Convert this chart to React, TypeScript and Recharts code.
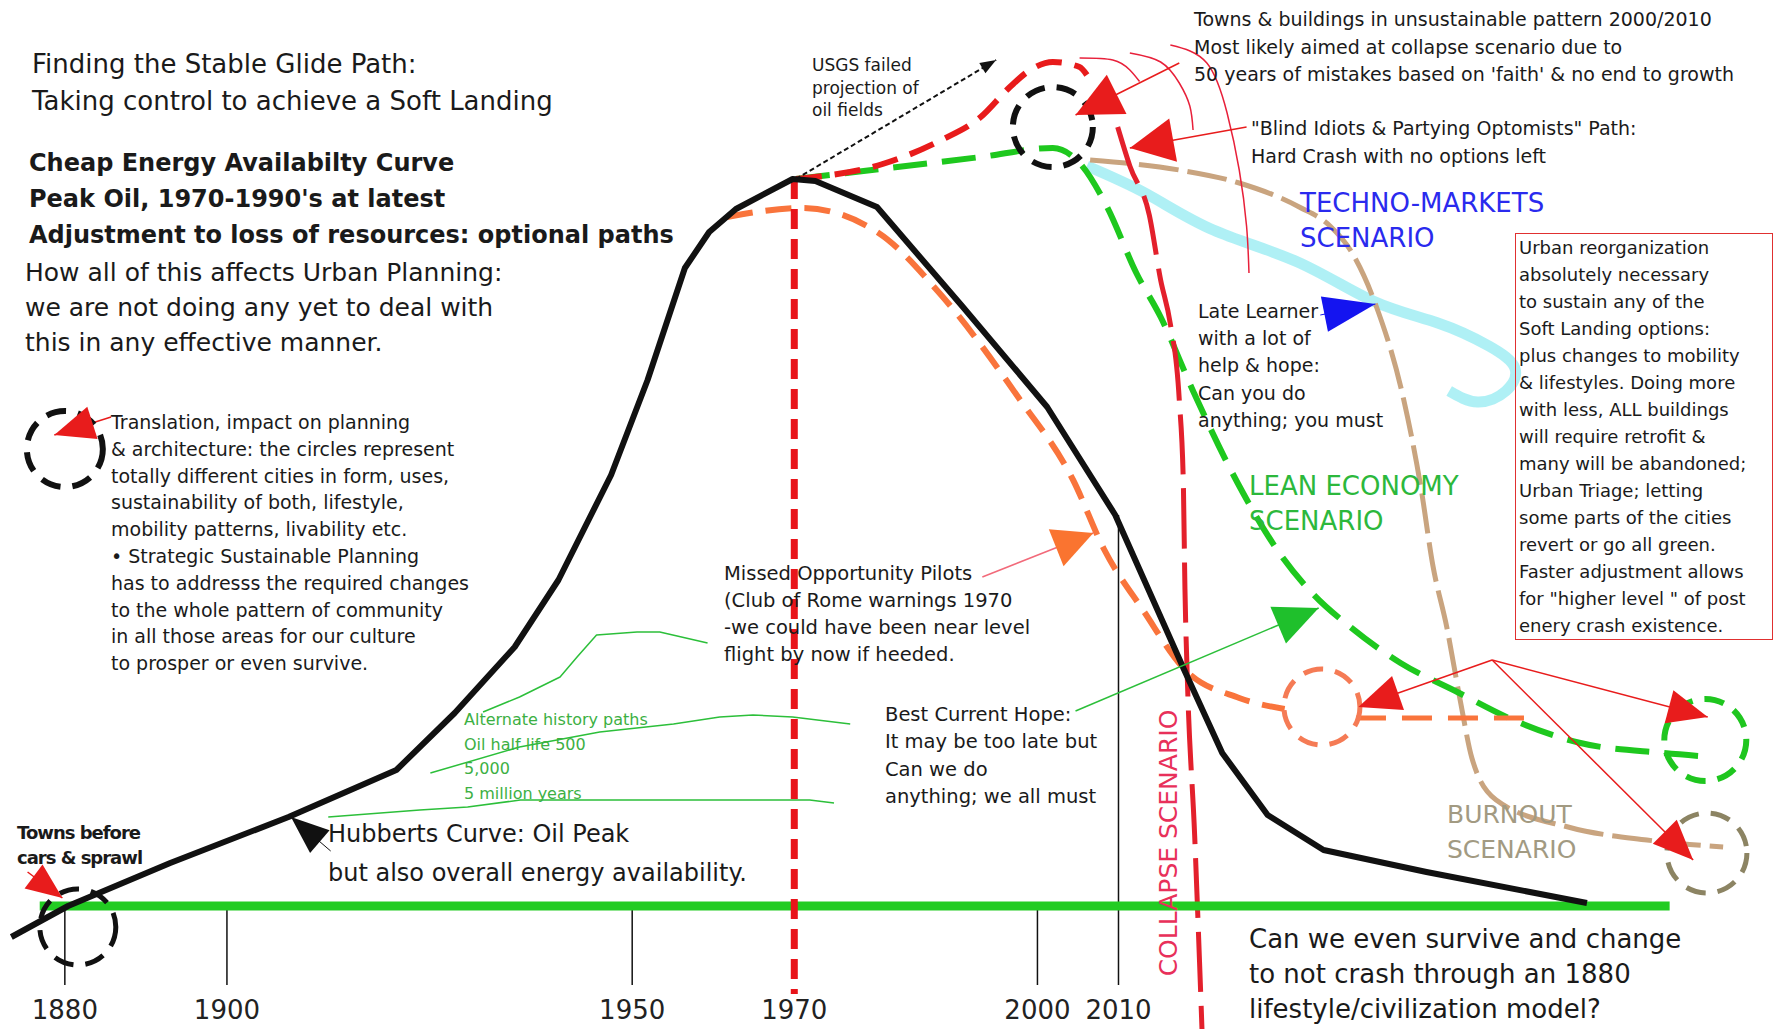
import React from "react";
import { LineChart, Line, XAxis, YAxis, ReferenceDot, ReferenceLine } from "recharts";

// energy index: 0 = the green baseline, year on the x axis
type Pt = { year: number; energy: number };

const hubbertCurve: Pt[] = [
  { year: 1873.4, energy: -3.1 },
  { year: 1880.4, energy: 0.0 },
  { year: 1893.0, energy: 4.3 },
  { year: 1907.6, energy: 8.9 },
  { year: 1920.9, energy: 13.6 },
  { year: 1928.1, energy: 19.3 },
  { year: 1935.5, energy: 25.9 },
  { year: 1940.9, energy: 32.6 },
  { year: 1947.4, energy: 43.1 },
  { year: 1951.9, energy: 52.6 },
  { year: 1956.5, energy: 63.8 },
  { year: 1959.5, energy: 67.4 },
  { year: 1962.8, energy: 69.7 },
  { year: 1969.8, energy: 72.7 },
  { year: 1972.6, energy: 72.5 },
  { year: 1980.2, energy: 69.9 },
  { year: 1990.7, energy: 60.0 },
  { year: 2001.2, energy: 49.9 },
  { year: 2009.6, energy: 39.1 },
  { year: 2018.0, energy: 23.8 },
  { year: 2022.8, energy: 15.3 },
  { year: 2028.4, energy: 9.1 },
  { year: 2035.3, energy: 5.6 },
  { year: 2048.0, energy: 3.4 },
  { year: 2067.8, energy: 0.3 },
];

const peakLine1970: Pt[] = [
  { year: 1970, energy: 72.7 },
  { year: 1970, energy: -8.8 },
];

const missedOpportunity: Pt[] = [
  { year: 1961.7, energy: 68.9 },
  { year: 1971.0, energy: 69.8 },
  { year: 1980.4, energy: 67.3 },
  { year: 1987.9, energy: 61.3 },
  { year: 1997.7, energy: 50.8 },
  { year: 2004.4, energy: 42.6 },
  { year: 2008.2, energy: 35.7 },
  { year: 2013.1, energy: 29.5 },
  { year: 2018.0, energy: 23.8 },
  { year: 2024.9, energy: 20.8 },
  { year: 2030.5, energy: 19.7 },
];

const missedLevelFlight: Pt[] = [
  { year: 2039.3, energy: 18.8 },
  { year: 2061.5, energy: 18.8 },
];

const leanEconomy: Pt[] = [
  { year: 1970.2, energy: 72.7 },
  { year: 1993.0, energy: 74.9 },
  { year: 2001.9, energy: 75.8 },
  { year: 2005.2, energy: 74.3 },
  { year: 2008.6, energy: 69.9 },
  { year: 2012.2, energy: 63.3 },
  { year: 2015.2, energy: 58.9 },
  { year: 2019.2, energy: 51.5 },
  { year: 2024.7, energy: 42.3 },
  { year: 2030.2, energy: 34.9 },
  { year: 2034.0, energy: 31.2 },
  { year: 2038.6, energy: 27.9 },
  { year: 2044.8, energy: 24.3 },
  { year: 2051.8, energy: 21.4 },
  { year: 2058.7, energy: 18.6 },
  { year: 2067.0, energy: 16.3 },
  { year: 2077.2, energy: 15.3 },
  { year: 2083.3, energy: 14.9 },
];

const blindOptimists: Pt[] = [
  { year: 1970.2, energy: 72.7 },
  { year: 1980.9, energy: 74.2 },
  { year: 1987.9, energy: 76.5 },
  { year: 1993.0, energy: 78.9 },
  { year: 1996.6, energy: 81.9 },
  { year: 1999.1, energy: 83.6 },
  { year: 2001.9, energy: 84.4 },
  { year: 2005.2, energy: 83.9 },
  { year: 2006.1, energy: 83.1 },
];

const collapse: Pt[] = [
  { year: 2009.9, energy: 77.9 },
  { year: 2011.4, energy: 74.0 },
  { year: 2013.8, energy: 69.1 },
  { year: 2015.2, energy: 62.6 },
  { year: 2016.4, energy: 58.2 },
  { year: 2017.5, energy: 50.6 },
  { year: 2018.0, energy: 42.3 },
  { year: 2018.2, energy: 31.7 },
  { year: 2018.5, energy: 22.6 },
  { year: 2019.4, energy: 7.0 },
  { year: 2020.0, energy: -5.6 },
  { year: 2020.3, energy: -12.3 },
];

const burnout: Pt[] = [
  { year: 2006.5, energy: 74.6 },
  { year: 2017.5, energy: 73.6 },
  { year: 2024.9, energy: 72.3 },
  { year: 2032.3, energy: 69.9 },
  { year: 2036.1, energy: 68.0 },
  { year: 2038.6, energy: 65.6 },
  { year: 2041.7, energy: 60.2 },
  { year: 2045.2, energy: 50.6 },
  { year: 2047.3, energy: 41.9 },
  { year: 2048.8, energy: 34.0 },
  { year: 2050.5, energy: 27.9 },
  { year: 2052.2, energy: 20.4 },
  { year: 2053.6, energy: 14.8 },
  { year: 2056.6, energy: 10.6 },
  { year: 2065.7, energy: 7.85 },
  { year: 2075.2, energy: 6.6 },
  { year: 2084.6, energy: 5.9 },
];

const technoMarkets: Pt[] = [
  { year: 2006.1, energy: 74.0 },
  { year: 2013.5, energy: 71.2 },
  { year: 2021.7, energy: 67.6 },
  { year: 2032.1, energy: 64.4 },
  { year: 2041.4, energy: 60.5 },
  { year: 2049.4, energy: 58.3 },
  { year: 2055.7, energy: 56.0 },
  { year: 2058.9, energy: 53.8 },
  { year: 2057.8, energy: 51.5 },
  { year: 2054.3, energy: 50.4 },
  { year: 2050.8, energy: 51.5 },
];

const usgsProjection: Pt[] = [
  { year: 1970.2, energy: 72.7 },
  { year: 1994.9, energy: 84.6 },
];

const altHistory500: Pt[] = [
  { year: 1931.6, energy: 19.4 },
  { year: 1936.1, energy: 20.9 },
  { year: 1941.1, energy: 22.9 },
  { year: 1943.2, energy: 24.9 },
  { year: 1945.6, energy: 27.1 },
  { year: 1950.6, energy: 27.4 },
  { year: 1953.4, energy: 27.4 },
  { year: 1959.3, energy: 26.3 },
];

const altHistory5000: Pt[] = [
  { year: 1925.1, energy: 13.3 },
  { year: 1936.1, energy: 15.9 },
  { year: 1946.0, energy: 17.4 },
  { year: 1955.1, energy: 18.2 },
  { year: 1960.8, energy: 18.9 },
  { year: 1964.9, energy: 19.1 },
  { year: 1969.8, energy: 18.9 },
  { year: 1976.9, energy: 18.2 },
];

const altHistoryMillion: Pt[] = [
  { year: 1912.5, energy: 8.9 },
  { year: 1923.8, energy: 9.6 },
  { year: 1929.7, energy: 9.9 },
  { year: 1936.2, energy: 10.6 },
  { year: 1971.9, energy: 10.6 },
  { year: 1974.9, energy: 10.3 },
];

const warnArc1: Pt[] = [
  { year: 2005.2, energy: 84.8 },
  { year: 2009.3, energy: 84.6 },
  { year: 2011.4, energy: 83.6 },
  { year: 2012.6, energy: 82.45 },
];
const warnArc2: Pt[] = [
  { year: 2011.4, energy: 85.3 },
  { year: 2015.2, energy: 84.4 },
  { year: 2017.5, energy: 82.3 },
  { year: 2018.8, energy: 80.0 },
  { year: 2019.2, energy: 77.6 },
];
const warnArc3: Pt[] = [
  { year: 2016.4, energy: 86.1 },
  { year: 2020.9, energy: 84.3 },
  { year: 2023.4, energy: 79.3 },
  { year: 2024.9, energy: 73.6 },
  { year: 2025.8, energy: 68.0 },
  { year: 2026.1, energy: 63.3 },
];

const baseline: Pt[] = [
  { year: 1876.9, energy: 0 },
  { year: 2078.0, energy: 0 },
];

// pointer arrows: tail first, tip last
const arrowTownsPattern: Pt[] = [{ year: 2017.5, energy: 84.3 }, { year: 2004.7, energy: 79.1 }];
const arrowBlind: Pt[] = [{ year: 2025.8, energy: 77.9 }, { year: 2011.4, energy: 75.8 }];
const arrowMissed: Pt[] = [{ year: 1993.2, energy: 32.9 }, { year: 2006.9, energy: 37.3 }];
const arrowHope: Pt[] = [{ year: 2004.7, energy: 19.5 }, { year: 2034.7, energy: 29.8 }];
const arrowLate: Pt[] = [{ year: 2034.9, energy: 59.1 }, { year: 2041.7, energy: 60.2 }];
const arrowHubbert: Pt[] = [{ year: 1912.8, energy: 5.5 }, { year: 1907.9, energy: 8.9 }];
const arrowLegend: Pt[] = [{ year: 1885.7, energy: 48.9 }, { year: 1878.7, energy: 47.1 }];
const arrowTownsBefore: Pt[] = [{ year: 1875.4, energy: 3.4 }, { year: 1879.7, energy: 0.8 }];
const arrowToMissed: Pt[] = [{ year: 2056.1, energy: 24.6 }, { year: 2039.6, energy: 19.9 }];
const arrowToLean: Pt[] = [{ year: 2056.1, energy: 24.6 }, { year: 2082.7, energy: 18.9 }];
const arrowToBurnout: Pt[] = [{ year: 2056.1, energy: 24.6 }, { year: 2080.9, energy: 4.6 }];

const cityCircles = [
  { name: "now", year: 2001.9, energy: 77.9 },
  { name: "legend", year: 1880.0, energy: 45.7 },
  { name: "before", year: 1881.6, energy: -2.1 },
  { name: "missed", year: 2035.1, energy: 19.9 },
  { name: "lean", year: 2082.4, energy: 16.6 },
  { name: "burnout", year: 2082.6, energy: 5.3 },
];

const axisTicks = [
  { year: 1880, top: 0 },
  { year: 1900, top: 0 },
  { year: 1950, top: 0 },
  { year: 2000, top: 0 },
  { year: 2010, top: 39.1 },
];
const tickBottom = -7.9;
const yearLabels = [1880, 1900, 1950, 1970, 2000, 2010];
const yearLabelLevel = -10.4;

const titleLines = ["Finding the Stable Glide Path:", "Taking control to achieve a Soft Landing"];
const curveLines = [
  "Cheap Energy Availabilty Curve",
  "Peak Oil, 1970-1990's at latest",
  "Adjustment to loss of resources: optional paths",
];
const planningLines = [
  "How all of this affects Urban Planning:",
  "we are not doing any yet to deal with",
  "this in any effective manner.",
];
const legendLines = [
  "Translation, impact on planning",
  "& architecture: the circles represent",
  "totally different cities in form, uses,",
  "sustainability of both, lifestyle,",
  "mobility patterns, livability etc.",
  "\u2022 Strategic Sustainable Planning",
  "has to addresss the required changes",
  "to the whole pattern of community",
  "in all those areas for our culture",
  "to prosper or even survive.",
];
const townsPatternLines = [
  "Towns & buildings in unsustainable pattern 2000/2010",
  "Most likely aimed at collapse scenario due to",
  "50 years of mistakes based on 'faith' & no end to growth",
];
const usgsLines = ["USGS failed", "projection of", "oil fields"];
const blindLines = ["\"Blind Idiots & Partying Optomists\" Path:", "Hard Crash with no options left"];
const technoLines = ["TECHNO-MARKETS", "SCENARIO"];
const lateLines = ["Late Learner", "with a lot of", "help & hope:", "Can you do", "anything; you must"];
const leanLines = ["LEAN ECONOMY", "SCENARIO"];
const urbanLines = [
  "Urban reorganization",
  "absolutely necessary",
  "to sustain any of the",
  "Soft Landing options:",
  "plus changes to mobility",
  "& lifestyles. Doing more",
  "with less, ALL buildings",
  "will require retrofit &",
  "many will be abandoned;",
  "Urban Triage; letting",
  "some parts of the cities",
  "revert or go all green.",
  "Faster adjustment allows",
  "for \"higher level \" of post",
  "enery crash existence.",
];
const missedLines = [
  "Missed Opportunity Pilots",
  "(Club of Rome warnings 1970",
  "-we could have been near level",
  "flight by now if heeded.",
];
const hopeLines = ["Best Current Hope:", "It may be too late but", "Can we do", "anything; we all must"];
const altLines = ["Alternate history paths", "Oil half life 500", "5,000", "5 million years"];
const hubbertLines = ["Hubberts Curve: Oil Peak", "but also overall energy availability."];
const townsBeforeLines = ["Towns before", "cars & sprawl"];
const collapseLabel = "COLLAPSE SCENARIO";
const surviveLines = ["Can we even survive and change", "to not crash through an 1880", "lifestyle/civilization model?"];
const burnoutLines = ["BURNOUT", "SCENARIO"];

const FONT = "'DejaVu Sans', sans-serif";

const circleStyle: Record<string, { stroke: string; r: number; w: number }> = {
  now: { stroke: "#111", r: 40, w: 6 },
  legend: { stroke: "#111", r: 38, w: 6 },
  before: { stroke: "#111", r: 38, w: 5 },
  missed: { stroke: "#f57b55", r: 38, w: 5 },
  lean: { stroke: "#1fc61f", r: 41, w: 6 },
  burnout: { stroke: "#8c8463", r: 40, w: 5 },
};

function arrowHead(color: string, len: number, half: number) {
  let tail: { x: number; y: number } | null = null;
  return (props: any) => {
    const { cx, cy, index } = props;
    if (index === 0) {
      tail = { x: cx, y: cy };
      return <g key={`t${index}`} />;
    }
    const from = tail ?? { x: cx - 1, y: cy };
    const a = Math.atan2(cy - from.y, cx - from.x);
    const bx = cx - len * Math.cos(a);
    const by = cy - len * Math.sin(a);
    const px = -Math.sin(a) * half;
    const py = Math.cos(a) * half;
    return (
      <polygon
        key={`h${index}`}
        points={`${cx},${cy} ${bx + px},${by + py} ${bx - px},${by - py}`}
        fill={color}
      />
    );
  };
}

const headTownsPattern = arrowHead("#e81c1c", 46, 22);
const headBlind = arrowHead("#e81c1c", 44, 22);
const headMissed = arrowHead("#fa7430", 40, 20);
const headHope = arrowHead("#1fc02c", 44, 20);
const headLate = arrowHead("#1414f0", 52, 18);
const headHubbert = arrowHead("#111", 38, 15);
const headLegend = arrowHead("#e81c1c", 40, 17);
const headTownsBefore = arrowHead("#e81c1c", 36, 15);
const headToMissed = arrowHead("#e81c1c", 42, 18);
const headToLean = arrowHead("#e81c1c", 40, 17);
const headToBurnout = arrowHead("#e81c1c", 40, 17);
const headUsgs = arrowHead("#111", 16, 6);

const Block = ({
  lines,
  left,
  top,
  size,
  lh,
  color = "#1a1a1a",
  weight = 400,
  spacing = 0,
}: {
  lines: string[];
  left: number;
  top: number;
  size: number;
  lh: number;
  color?: string;
  weight?: number;
  spacing?: number;
}) => (
  <div
    style={{
      position: "absolute",
      left,
      top,
      fontSize: size,
      lineHeight: `${lh}px`,
      color,
      fontWeight: weight,
      letterSpacing: spacing,
      whiteSpace: "nowrap",
      pointerEvents: "none",
    }}
  >
    {lines.map((l) => (
      <div key={l} style={{ height: lh }}>
        {l}
      </div>
    ))}
  </div>
);

const App = () => {
  const line = (
    key: string,
    data: Pt[],
    stroke: string,
    width: number,
    dash?: string,
    type: any = "monotone",
    dot: any = false,
    opacity = 1
  ) => (
    <Line
      key={key}
      data={data}
      dataKey="energy"
      type={type}
      stroke={stroke}
      strokeWidth={width}
      strokeDasharray={dash}
      strokeOpacity={opacity}
      strokeLinejoin="round"
      dot={dot}
      activeDot={false}
      isAnimationActive={false}
      legendType="none"
    />
  );

  return (
    <div
      style={{
        position: "absolute",
        left: 0,
        top: 0,
        width: 1775,
        height: 1029,
        background: "#fff",
        overflow: "hidden",
        fontFamily: FONT,
      }}
    >
      <LineChart width={1775} height={1029} margin={{ top: 0, right: 0, bottom: 0, left: 0 }} style={{ fontFamily: FONT }}>
        <XAxis type="number" dataKey="year" domain={[1872, 2091]} hide allowDataOverflow />
        <YAxis type="number" dataKey="energy" domain={[-12.3, 90.6]} hide allowDataOverflow />

        {axisTicks.map((t) => (
          <ReferenceLine
            key={`tick${t.year}`}
            segment={[
              { x: t.year, y: t.top },
              { x: t.year, y: tickBottom },
            ]}
            stroke="#111"
            strokeWidth={1.5}
          />
        ))}
        {yearLabels.map((y) => (
          <ReferenceDot
            key={`lab${y}`}
            x={y}
            y={yearLabelLevel}
            r={0}
            ifOverflow="visible"
            label={{ value: String(y), position: "center", fontSize: 26, fill: "#222", fontFamily: FONT }}
          />
        ))}

        {line("alt500", altHistory500, "#2cbf3a", 1.5, undefined, "linear")}
        {line("alt5000", altHistory5000, "#2cbf3a", 1.5, undefined, "linear")}
        {line("altM", altHistoryMillion, "#2cbf3a", 1.5, undefined, "linear")}

        {line("techno", technoMarkets, "#a6eef4", 11, undefined, "natural", false, 0.9)}
        {line("burnout", burnout, "#c9a47f", 5, "40 9", "monotone")}
        {line("lean", leanEconomy, "#1ec81e", 6, "34 15", "monotone")}
        {line("missed", missedOpportunity, "#f9743c", 6, "26 13", "monotone")}
        {line("missedFlat", missedLevelFlight, "#f9743c", 5, "30 16", "linear")}
        {line("blind", blindOptimists, "#e81b1b", 6, "26 13", "monotone")}
        {line("collapse", collapse, "#e3202c", 5, "60 14", "monotone")}
        {line("arc1", warnArc1, "#e8203a", 1.5, undefined, "natural")}
        {line("arc2", warnArc2, "#e8203a", 1.5, undefined, "natural")}
        {line("arc3", warnArc3, "#e8203a", 1.5, undefined, "natural")}
        {line("baseline", baseline, "#22cc22", 9, undefined, "linear")}
        {line("peak1970", peakLine1970, "#e8141a", 7, "20 10", "linear")}
        {line("hubbert", hubbertCurve, "#111", 6, undefined, "linear")}
        {line("usgs", usgsProjection, "#111", 2, "5 3", "linear", headUsgs)}

        {cityCircles.map((c) => (
          <ReferenceDot
            key={c.name}
            x={c.year}
            y={c.energy}
            r={circleStyle[c.name].r}
            fill="none"
            stroke={circleStyle[c.name].stroke}
            strokeWidth={circleStyle[c.name].w}
            strokeDasharray="20 12"
            ifOverflow="visible"
          />
        ))}

        {line("aTowns", arrowTownsPattern, "#e81c1c", 1.5, undefined, "linear", headTownsPattern)}
        {line("aBlind", arrowBlind, "#e81c1c", 1.5, undefined, "linear", headBlind)}
        {line("aMissed", arrowMissed, "#f26a7a", 1.5, undefined, "linear", headMissed)}
        {line("aHope", arrowHope, "#2cbf3a", 1.5, undefined, "linear", headHope)}
        {line("aLate", arrowLate, "#1414f0", 1, undefined, "linear", headLate)}
        {line("aHubbert", arrowHubbert, "#111", 1, undefined, "linear", headHubbert)}
        {line("aLegend", arrowLegend, "#e81c1c", 1.5, undefined, "linear", headLegend)}
        {line("aBefore", arrowTownsBefore, "#e81c1c", 1.5, undefined, "linear", headTownsBefore)}
        {line("aToMissed", arrowToMissed, "#e81c1c", 1.5, undefined, "linear", headToMissed)}
        {line("aToLean", arrowToLean, "#e81c1c", 1.5, undefined, "linear", headToLean)}
        {line("aToBurnout", arrowToBurnout, "#e81c1c", 1.5, undefined, "linear", headToBurnout)}
      </LineChart>

      <Block lines={titleLines} left={32} top={46} size={26} lh={37} />
      <Block lines={curveLines} left={29} top={145} size={24} lh={36} weight={700} />
      <Block lines={planningLines} left={25} top={255} size={25} lh={35} />
      <Block lines={legendLines} left={111} top={409} size={19} lh={26.8} />
      <Block lines={townsPatternLines} left={1194} top={6} size={19} lh={27.5} />
      <Block lines={usgsLines} left={812} top={54} size={17} lh={22.5} />
      <Block lines={blindLines} left={1251} top={114} size={19} lh={28} />
      <Block lines={technoLines} left={1300} top={186} size={26} lh={35} color="#2a2aee" />
      <Block lines={lateLines} left={1198} top={298} size={19} lh={27.2} />
      <Block lines={leanLines} left={1249} top={469} size={26} lh={35} color="#2cb83c" />
      <div
        style={{
          position: "absolute",
          left: 1515,
          top: 233,
          width: 256,
          height: 405,
          border: "1.5px solid #e03030",
          pointerEvents: "none",
        }}
      />
      <Block lines={urbanLines} left={1519} top={234} size={18} lh={27} />
      <Block lines={missedLines} left={724} top={560} size={19.5} lh={27} />
      <Block lines={hopeLines} left={885} top={701} size={19.5} lh={27.3} />
      <Block lines={altLines} left={464} top={708} size={16} lh={24.7} color="#3cb043" />
      <Block lines={hubbertLines} left={328} top={815} size={24} lh={39} />
      <Block lines={townsBeforeLines} left={17} top={820} size={18} lh={25} weight={700} spacing={-1} />
      <div
        style={{
          position: "absolute",
          left: 1168,
          top: 843,
          transform: "translate(-50%, -50%) rotate(-90deg)",
          fontSize: 25,
          color: "#e8305a",
          whiteSpace: "nowrap",
          pointerEvents: "none",
        }}
      >
        {collapseLabel}
      </div>
      <Block lines={surviveLines} left={1249} top={922} size={26} lh={35} />
      <Block lines={burnoutLines} left={1447} top={797} size={25} lh={35} color="#a29a82" />
    </div>
  );
};

export default App;
